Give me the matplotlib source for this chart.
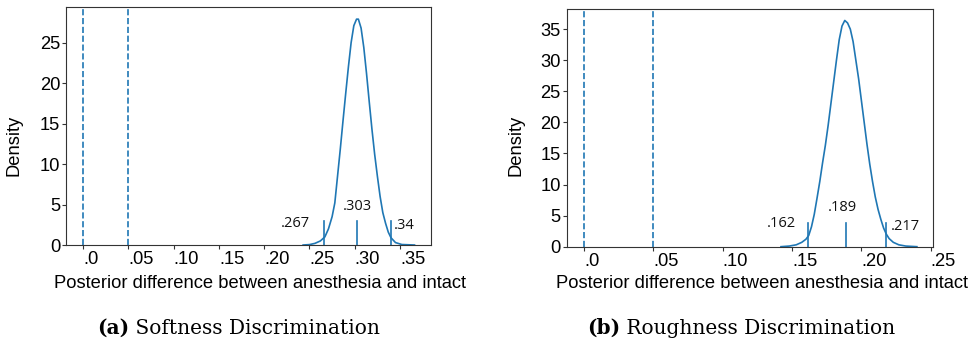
import matplotlib
matplotlib.use("Agg")
import matplotlib.pyplot as plt
import matplotlib.transforms as mtransforms
from matplotlib.ticker import MultipleLocator

# Posterior density of the difference
soft_x = [0.243, 0.250, 0.256, 0.262, 0.267, 0.271, 0.275, 0.278, 0.281, 0.284,
          0.287, 0.290, 0.293, 0.296, 0.299, 0.302, 0.304, 0.307, 0.310, 0.313,
          0.316, 0.319, 0.322, 0.325, 0.328, 0.331, 0.334, 0.337, 0.340, 0.345,
          0.352, 0.366]
soft_y = [0.0, 0.05, 0.2, 0.5, 1.0, 2.0, 3.5, 5.2, 8.5, 11.8,
          15.3, 18.7, 22.0, 25.0, 27.1, 27.9, 27.9, 26.8, 24.4, 21.2,
          17.7, 14.3, 11.2, 8.5, 6.0, 4.0, 2.7, 1.6, 0.9, 0.3,
          0.06, 0.0]
rough_x = [0.142, 0.148, 0.153, 0.157, 0.160, 0.162, 0.164, 0.166, 0.168, 0.170,
           0.172, 0.174, 0.176, 0.178, 0.180, 0.182, 0.184, 0.186, 0.188, 0.190,
           0.192, 0.194, 0.196, 0.198, 0.200, 0.202, 0.204, 0.206, 0.208, 0.210,
           0.212, 0.214, 0.216, 0.218, 0.220, 0.223, 0.227, 0.232, 0.240]
rough_y = [0.0, 0.1, 0.3, 0.7, 1.2, 1.8, 3.2, 5.2, 7.8, 10.5,
           13.5, 16.3, 19.5, 23.0, 26.5, 30.0, 33.3, 35.5, 36.4, 36.0,
           35.0, 33.0, 30.0, 27.0, 23.5, 20.0, 16.5, 13.3, 10.5, 8.0,
           6.0, 4.4, 3.0, 2.0, 1.3, 0.7, 0.3, 0.1, 0.0]

# credible interval (low, median, high) and their labels
soft_ci = [0.2665, 0.303, 0.3397]
soft_ci_labels = [".267", ".303", ".34"]
rough_ci = [0.1618, 0.189, 0.2178]
rough_ci_labels = [".162", ".189", ".217"]

# ROPE boundaries
rope = [0.0, 0.05]

soft_ticks = [0.0, 0.05, 0.10, 0.15, 0.20, 0.25, 0.30, 0.35]
soft_ticklabels = [".0", ".05", ".10", ".15", ".20", ".25", ".30", ".35"]
rough_ticks = [0.0, 0.05, 0.10, 0.15, 0.20, 0.25]
rough_ticklabels = [".0", ".05", ".10", ".15", ".20", ".25"]

captions = [("(a)", "Softness Discrimination"), ("(b)", "Roughness Discrimination")]

BLUE = "#1f77b4"
FS = 13.2
plt.rcParams["font.family"] = ["Liberation Sans", "DejaVu Sans"]


def draw(ax, xs, ys, ci, ci_labels, ticks, ticklabels, xlim, ylim, ylabel_xy, xlabel_xy, label_pos):
    ax.plot(xs, ys, color=BLUE, lw=1.2)
    for r in rope:
        ax.axvline(r, color=BLUE, lw=1.2, ls="--")
    for c in ci:
        ax.axvline(c, ymin=0, ymax=0.1, color=BLUE, lw=1.2)
    for c, lab, (dx, y, ha) in zip(ci, ci_labels, label_pos):
        ax.text(c + dx, y, lab, ha=ha, va="center", fontsize=10.5,
                family=["Open Sans", "DejaVu Sans"], color="#111111")
    ax.set_xlim(*xlim)
    ax.set_ylim(*ylim)
    ax.yaxis.set_major_locator(MultipleLocator(5))
    ax.set_xticks(ticks)
    ax.set_xticklabels(ticklabels)
    for t in ax.get_xticklabels():
        t.set_ha("left")
        t.set_transform(t.get_transform() + mtransforms.ScaledTranslation(-1.5 / 72, 0, ax.figure.dpi_scale_trans))
    ax.tick_params(axis="x", length=3, pad=1.2, labelsize=FS, color="#333333")
    ax.tick_params(axis="y", length=3, pad=1.2, labelsize=FS, color="#333333")
    for s in ax.spines.values():
        s.set_color("#333333")
        s.set_linewidth(0.8)
    ax.set_ylabel("Density", fontsize=FS)
    ax.yaxis.set_label_coords(*ylabel_xy)
    ax.set_xlabel("Posterior difference between anesthesia and intact", fontsize=FS)
    ax.xaxis.set_label_coords(*xlabel_xy)
    ax.xaxis.label.set_va("center")


fig = plt.figure(figsize=(9.74, 3.42), dpi=100)
ax1 = fig.add_axes([0.0678, 0.2836, 0.3747, 0.6959])
ax2 = fig.add_axes([0.5818, 0.2787, 0.3758, 0.6942])

draw(ax1, soft_x, soft_y, soft_ci, soft_ci_labels, soft_ticks, soft_ticklabels,
     (-0.0188, 0.3842), (0, 29.4), (-0.118, 0.42), (0.531, -0.16),
     [(-0.0325, 2.6, "center"), (0.0, 4.8, "center"), (0.0147, 2.4, "center")])
draw(ax2, rough_x, rough_y, rough_ci, rough_ci_labels, rough_ticks, rough_ticklabels,
     (-0.0125, 0.2514), (0, 38.2), (-0.114, 0.428), (0.534, -0.153),
     [(-0.0197, 3.65, "center"), (-0.0024, 6.3, "center"), (0.0139, 3.3, "center")])

# sub-figure captions
for (tag, text), x0 in zip(captions, [96.7 / 974, 586.7 / 974]):
    t = fig.text(x0, 1 - 328 / 342, tag, ha="left", va="center", fontsize=14.5,
                 fontweight="bold", family=["DejaVu Serif"])
    fig.canvas.draw()
    ax1.annotate(" " + text, xy=(1, 0.5), xycoords=t, ha="left", va="center",
                 fontsize=14.5, family=["DejaVu Serif"],
                 annotation_clip=False)

fig.savefig("out.png", dpi=100)
